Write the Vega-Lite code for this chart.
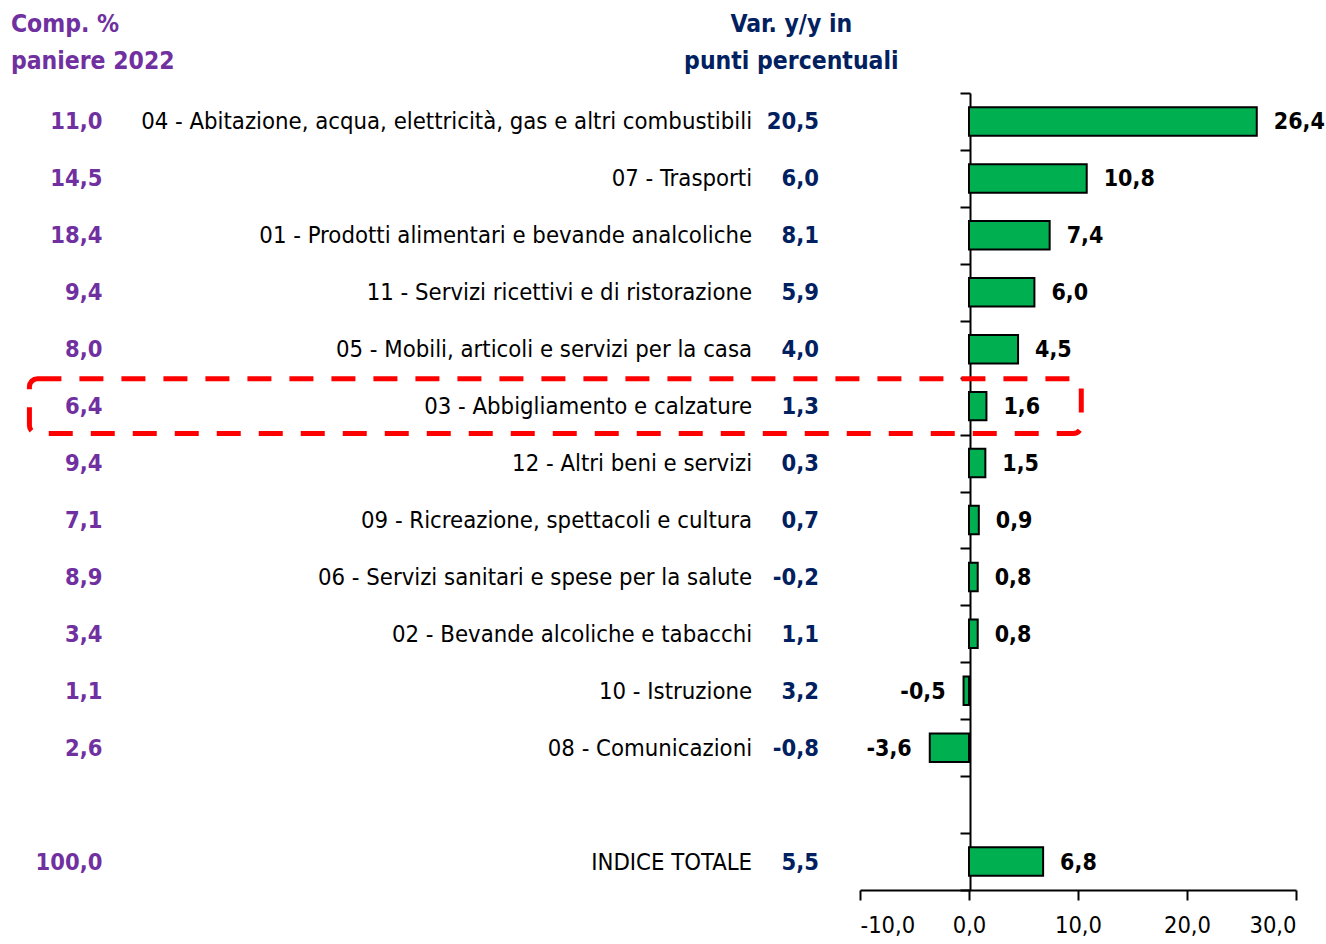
{
  "$schema": "https://vega.github.io/schema/vega-lite/v6.json",
  "width": 436,
  "height": 797,
  "autosize": {"type": "none"},
  "padding": {"left": 860, "top": 93, "right": 30, "bottom": 54},
  "background": "white",
  "config": {
    "view": {"stroke": null},
    "font": "'DejaVu Sans Condensed', 'Roboto Condensed', 'Liberation Sans', sans-serif",
    "locale": {"number": {"decimal": ",", "thousands": ".", "grouping": [3], "currency": ["€", ""], "minus": "-"}}
  },
  "data": {
    "values": [
      {"cat": "04 - Abitazione, acqua, elettricità, gas e altri combustibili", "comp": 11.0, "var": 20.5, "val": 26.4},
      {"cat": "07 - Trasporti", "comp": 14.5, "var": 6.0, "val": 10.8},
      {"cat": "01 - Prodotti alimentari e bevande analcoliche", "comp": 18.4, "var": 8.1, "val": 7.4},
      {"cat": "11 - Servizi ricettivi e di ristorazione", "comp": 9.4, "var": 5.9, "val": 6.0},
      {"cat": "05 - Mobili, articoli e servizi per la casa", "comp": 8.0, "var": 4.0, "val": 4.5},
      {"cat": "03 - Abbigliamento e calzature", "comp": 6.4, "var": 1.3, "val": 1.6},
      {"cat": "12 - Altri beni e servizi", "comp": 9.4, "var": 0.3, "val": 1.5},
      {"cat": "09 - Ricreazione, spettacoli e cultura", "comp": 7.1, "var": 0.7, "val": 0.9},
      {"cat": "06 - Servizi sanitari e spese per la salute", "comp": 8.9, "var": -0.2, "val": 0.8},
      {"cat": "02 - Bevande alcoliche e tabacchi", "comp": 3.4, "var": 1.1, "val": 0.8},
      {"cat": "10 - Istruzione", "comp": 1.1, "var": 3.2, "val": -0.5},
      {"cat": "08 - Comunicazioni", "comp": 2.6, "var": -0.8, "val": -3.6},
      {"cat": "INDICE TOTALE", "comp": 100.0, "var": 5.5, "val": 6.8}
    ]
  },
  "layer": [
    {
      "mark": {"type": "bar", "height": {"band": 0.5}, "fill": "#00B050", "stroke": "black", "strokeWidth": 2},
      "encoding": {
        "y": {
          "field": "cat", "type": "nominal", "sort": null,
          "scale": {
            "domain": [
              "04 - Abitazione, acqua, elettricità, gas e altri combustibili",
              "07 - Trasporti",
              "01 - Prodotti alimentari e bevande analcoliche",
              "11 - Servizi ricettivi e di ristorazione",
              "05 - Mobili, articoli e servizi per la casa",
              "03 - Abbigliamento e calzature",
              "12 - Altri beni e servizi",
              "09 - Ricreazione, spettacoli e cultura",
              "06 - Servizi sanitari e spese per la salute",
              "02 - Bevande alcoliche e tabacchi",
              "10 - Istruzione",
              "08 - Comunicazioni",
              " ",
              "INDICE TOTALE"
            ],
            "paddingInner": 0, "paddingOuter": 0
          },
          "axis": {
            "title": null, "labels": false, "offset": -110, "tickBand": "extent",
            "tickSize": 10, "tickWidth": 2, "tickColor": "black",
            "domainColor": "black", "domainWidth": 2, "grid": false
          }
        },
        "x": {
          "field": "val", "type": "quantitative",
          "scale": {"domain": [-10, 30], "nice": false, "zero": false},
          "axis": {
            "values": [-10, 0, 10, 20, 30], "format": ".1f", "title": null, "grid": false,
            "tickSize": 10, "tickWidth": 2, "tickColor": "black",
            "domainColor": "black", "domainWidth": 2,
            "labelFontSize": 23.5, "labelColor": "black", "labelPadding": 13,
            "labelFont": "'DejaVu Sans Condensed', 'Roboto Condensed', 'Liberation Sans', sans-serif"
          }
        },
        "x2": {"datum": 0}
      }
    },
    {
      "transform": [{"filter": "datum.val >= 0"}],
      "mark": {"type": "text", "align": "left", "baseline": "middle", "dx": 17, "dy": 1, "fontSize": 23, "fontWeight": "bold", "color": "black"},
      "encoding": {
        "y": {"field": "cat", "type": "nominal", "sort": null},
        "x": {"field": "val", "type": "quantitative"},
        "text": {"field": "val", "type": "quantitative", "format": ".1f"}
      }
    },
    {
      "transform": [{"filter": "datum.val < 0"}],
      "mark": {"type": "text", "align": "right", "baseline": "middle", "dx": -18, "dy": 1, "fontSize": 23, "fontWeight": "bold", "color": "black"},
      "encoding": {
        "y": {"field": "cat", "type": "nominal", "sort": null},
        "x": {"field": "val", "type": "quantitative"},
        "text": {"field": "val", "type": "quantitative", "format": ".1f"}
      }
    },
    {
      "mark": {"type": "text", "align": "right", "baseline": "middle", "dy": 1, "fontSize": 23.5, "fontWeight": "bold", "color": "#7030A0"},
      "encoding": {
        "y": {"field": "cat", "type": "nominal", "sort": null},
        "x": {"datum": -79.5},
        "text": {"field": "comp", "type": "quantitative", "format": ".1f"}
      }
    },
    {
      "mark": {"type": "text", "align": "right", "baseline": "middle", "dy": 1, "fontSize": 23.7, "color": "black"},
      "encoding": {
        "y": {"field": "cat", "type": "nominal", "sort": null},
        "x": {"datum": -19.9},
        "text": {"field": "cat", "type": "nominal"}
      }
    },
    {
      "mark": {"type": "text", "align": "right", "baseline": "middle", "dy": 1, "fontSize": 23.5, "fontWeight": "bold", "color": "#002060"},
      "encoding": {
        "y": {"field": "cat", "type": "nominal", "sort": null},
        "x": {"datum": -13.76},
        "text": {"field": "var", "type": "quantitative", "format": ".1f"}
      }
    },
    {
      "transform": [{"filter": "datum.cat == '03 - Abbigliamento e calzature'"}],
      "mark": {"type": "rect", "fill": null, "stroke": "#FF0000", "strokeWidth": 5, "strokeDash": [24, 18], "cornerRadius": 8, "height": {"band": 0.96}},
      "encoding": {
        "y": {"field": "cat", "type": "nominal", "sort": null},
        "x": {"datum": -86.2},
        "x2": {"datum": 10.3}
      }
    },
    {
      "data": {"values": [{"h": "Comp. %"}]},
      "mark": {"type": "text", "text": ["Comp. %", "paniere 2022"], "lineHeight": 37, "align": "left", "baseline": "middle", "dy": -96, "fontSize": 24.5, "fontWeight": "bold", "color": "#7030A0"},
      "encoding": {
        "y": {"datum": "04 - Abitazione, acqua, elettricità, gas e altri combustibili", "type": "nominal"},
        "x": {"datum": -87.9}
      }
    },
    {
      "data": {"values": [{"h": "Var"}]},
      "mark": {"type": "text", "text": ["Var. y/y in", "punti percentuali"], "lineHeight": 37, "align": "center", "baseline": "middle", "dy": -96, "fontSize": 24.5, "fontWeight": "bold", "color": "#002060"},
      "encoding": {
        "y": {"datum": "04 - Abitazione, acqua, elettricità, gas e altri combustibili", "type": "nominal"},
        "x": {"datum": -16.3}
      }
    }
  ]
}
